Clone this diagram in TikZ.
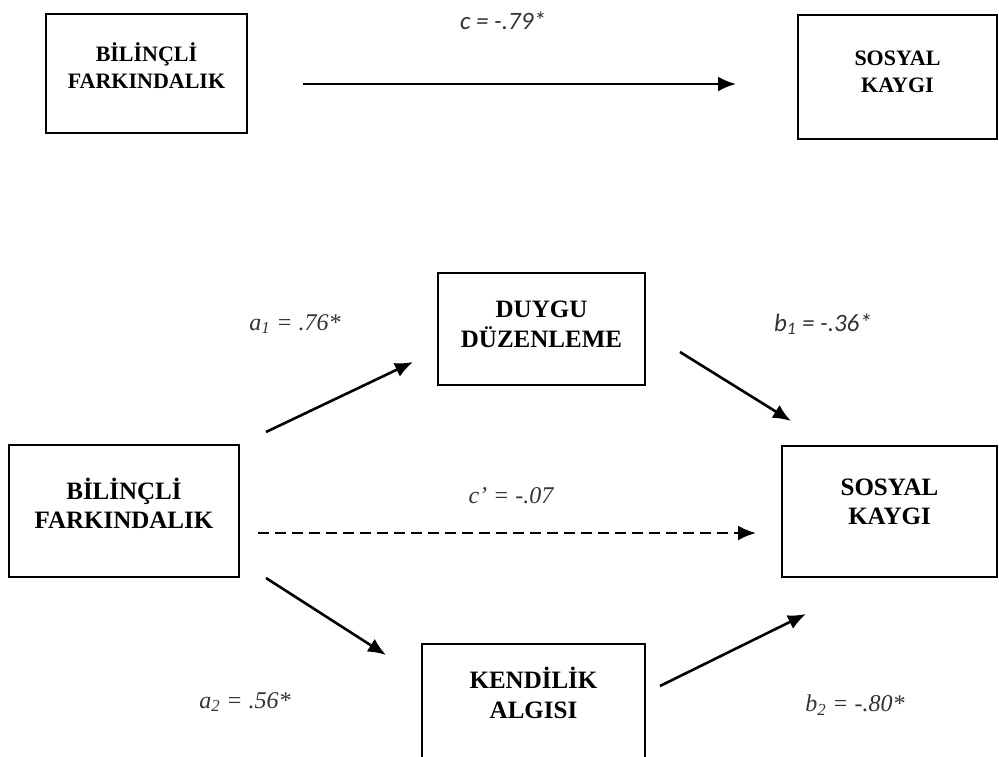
\documentclass[tikz,border=0pt]{standalone}
\usepackage{fontspec}
\setmainfont{Liberation Serif}
\newfontfamily\carl{Carlito}
\usetikzlibrary{arrows.meta}
\begin{document}
\begin{tikzpicture}[x=1pt,y=-1pt,
  box/.style={draw=black,line width=2.5pt,rectangle,inner sep=0pt},
  boxtxt/.style={align=center,font=\bfseries\fontsize{22}{27}\selectfont,inner sep=0pt},
  boxtxtb/.style={align=center,font=\bfseries\fontsize{25}{29.5}\selectfont,inner sep=0pt},
  conn/.style={line width=2.6pt,-{Latex[length=18pt,width=15pt]}},
  dconn/.style={conn,dash pattern=on 11pt off 6pt},
  lblT/.style={font=\itshape\fontsize{24}{24}\selectfont,inner sep=0pt,text=black!80},
  lblC/.style={font=\carl\itshape\fontsize{25}{25}\selectfont,inner sep=0pt,text=black!80}]
\clip (0,0) rectangle (999,756);
\useasboundingbox (0,0) rectangle (999,756);
% top model
\node[box,minimum width=201pt,minimum height=119pt] (tl) at (146.5,73.5) {};
\node[boxtxt] (tlt) at (146.5,66) {BİLİNÇLİ\\FARKINDALIK};
\node[box,minimum width=199pt,minimum height=124pt] (tr) at (897.5,77) {};
\node[boxtxt] (trt) at (897.5,71.5) {SOSYAL\\KAYGI};
\coordinate (c0) at (303,84);
\coordinate (c1) at (736,84);
\draw[conn] (c0) -- (c1);
\node[lblC] (lc) at (503,21) {c = -.79*};
% bottom model
\node[box,minimum width=230pt,minimum height=132pt] (bl) at (124,511) {};
\node[boxtxtb] (blt) at (124,503.5) {BİLİNÇLİ\\FARKINDALIK};
\node[box,minimum width=207pt,minimum height=112pt] (dm) at (541.5,329) {};
\node[boxtxtb] (dmt) at (541.5,324.5) {DUYGU\\DÜZENLEME};
\node[box,minimum width=223pt,minimum height=120pt] (km) at (533.5,704) {};
\node[boxtxtb] (kmt) at (533.5,693) {KENDİLİK\\ALGISI};
\node[box,minimum width=215pt,minimum height=131pt] (br) at (889.5,511.5) {};
\node[boxtxtb] (brt) at (889.5,502) {SOSYAL\\KAYGI};
\coordinate (a1s) at (266,432);
\coordinate (a1e) at (413,362);
\coordinate (b1s) at (680,352);
\coordinate (b1e) at (791,421);
\coordinate (cps) at (258,533);
\coordinate (cpe) at (756,533);
\coordinate (a2s) at (266,578);
\coordinate (a2e) at (386,655);
\coordinate (b2s) at (660,686);
\coordinate (b2e) at (806,614);
\draw[conn] (a1s) -- (a1e);
\draw[conn] (b1s) -- (b1e);
\draw[dconn] (cps) -- (cpe);
\draw[conn] (a2s) -- (a2e);
\draw[conn] (b2s) -- (b2e);
\node[lblT] (la1) at (295,324) {a\textsubscript{1} = .76*};
\node[lblC] (lb1) at (823,324) {b\textsubscript{1} = -.36*};
\node[lblT] (lcp) at (511,496) {c’ = -.07};
\node[lblT] (la2) at (245,702) {a\textsubscript{2} = .56*};
\node[lblT] (lb2) at (855,705) {b\textsubscript{2} = -.80*};
\end{tikzpicture}
\end{document}
